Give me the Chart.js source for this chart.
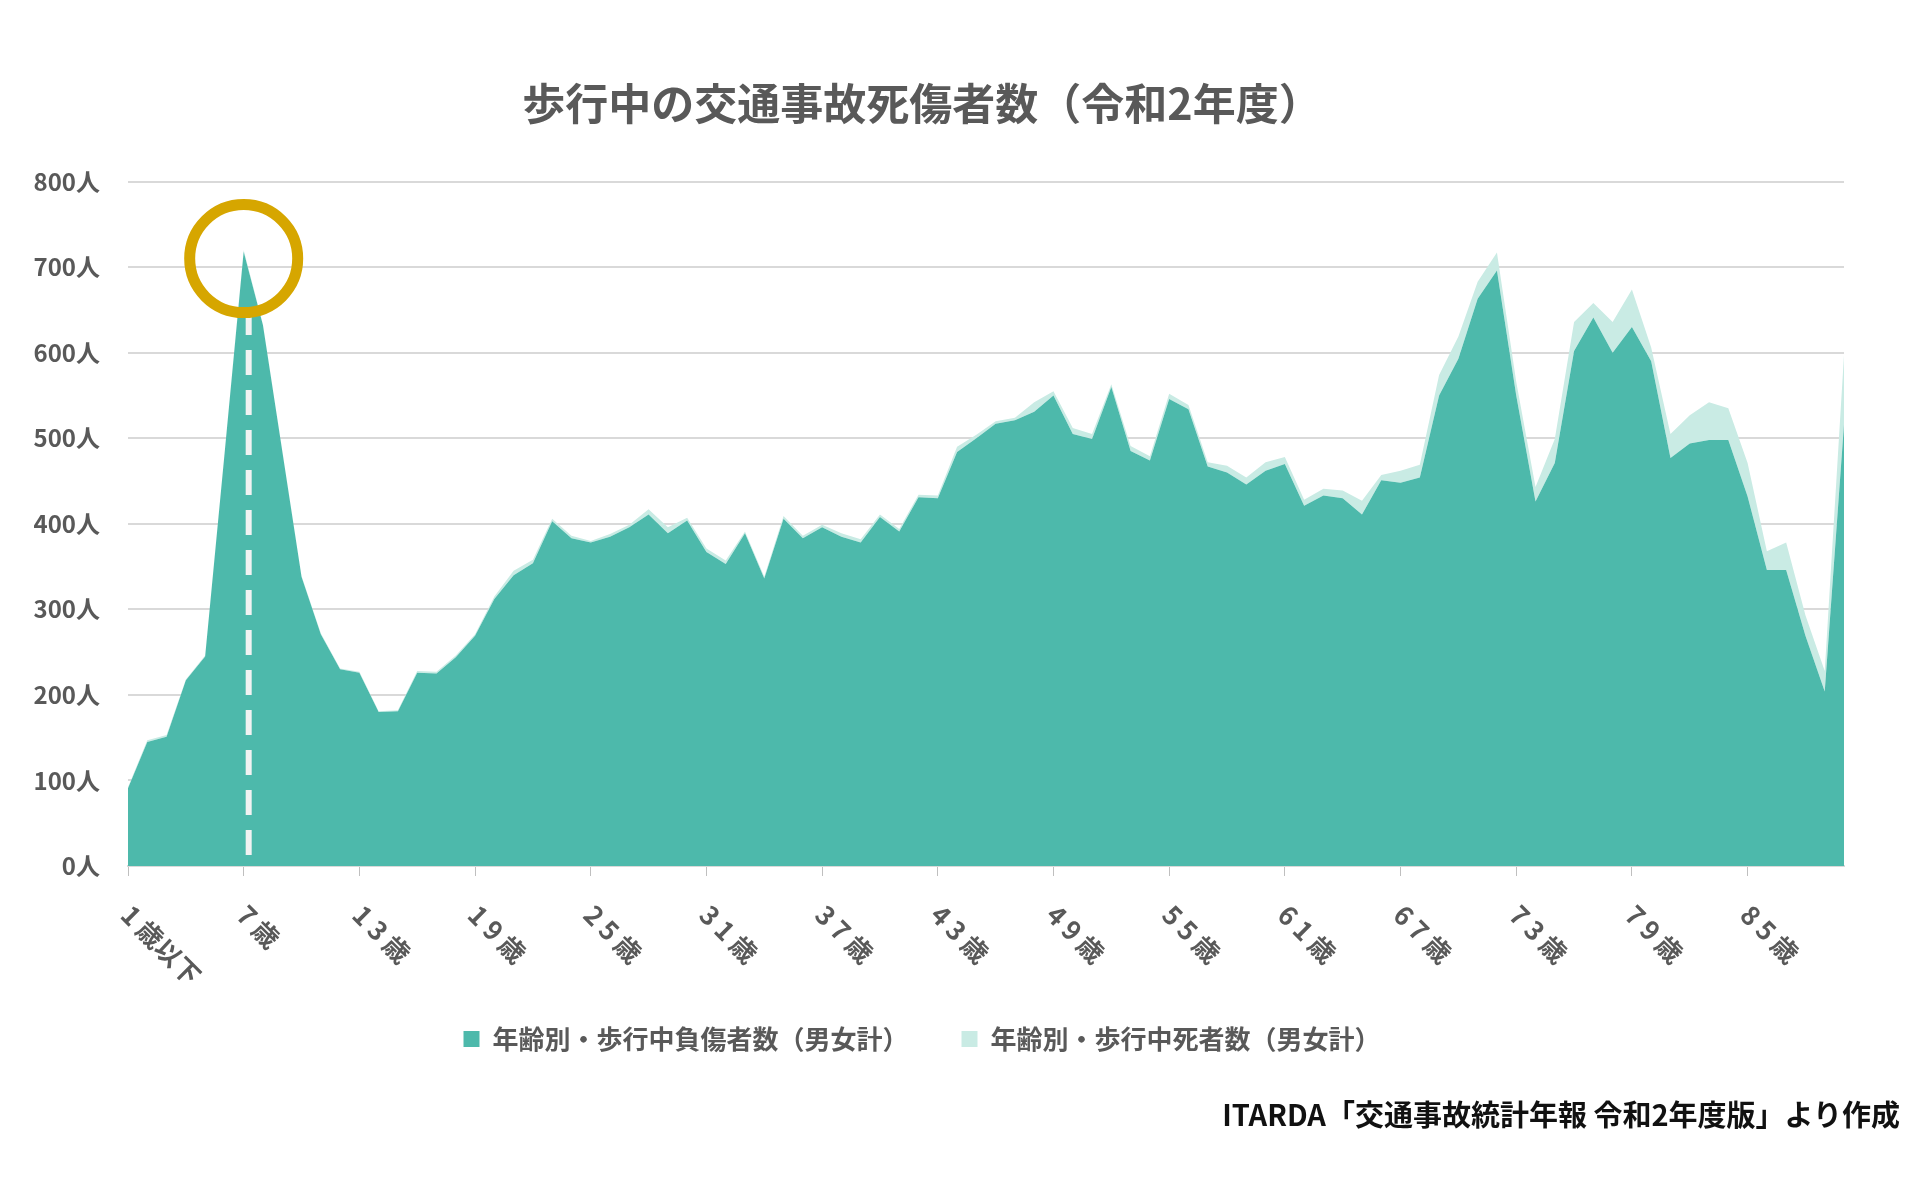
<!DOCTYPE html>
<html>
<head>
<meta charset="utf-8">
<script src="https://cdn.jsdelivr.net/npm/chart.js@4"></script>
<style>
  body { margin: 0; background: #fff; }
  #wrap { position: relative; width: 1920px; height: 1200px; }
  #source {
    position: absolute; right: 20px; top: 1092px;
    font: bold 29px "Noto Sans CJK JP", sans-serif; color: #111;
  }
</style>
</head>
<body>
<div id="wrap">
  <canvas id="graph" width="1920" height="1200"></canvas>
  <div id="source">ITARDA「交通事故統計年報 令和2年度版」より作成</div>
</div>
<script>
// 年齢（1歳以下〜90歳以上）
const ages = [];
for (let a = 1; a <= 90; a++) {
    ages.push(a === 1 ? '1歳以下' : (a === 90 ? '90歳以上' : a + '歳'));
}
// 軸に表示するラベル
const tickLabels = ['1 歳以下', '7 歳', '1 3 歳', '1 9 歳', '2 5 歳', '3 1 歳', '3 7 歳', '4 3 歳',
    '4 9 歳', '5 5 歳', '6 1 歳', '6 7 歳', '7 3 歳', '7 9 歳', '8 5 歳'];

const injured = [91, 145, 151, 217, 245, 480, 718, 632, 485, 338,
    271, 230, 226, 180, 181, 226, 225, 244, 269, 312,
    340, 354, 403, 383, 378, 385, 396, 411, 389, 404,
    367, 353, 389, 336, 406, 383, 396, 385, 378, 408,
    391, 431, 430, 484, 500, 517, 521, 531, 550, 505,
    499, 560, 485, 474, 546, 534, 467, 460, 446, 462,
    470, 421, 433, 430, 411, 451, 448, 454, 550, 593,
    663, 696, 550, 426, 471, 602, 641, 600, 630, 590,
    477, 494, 498, 498, 432, 346, 346, 269, 204, 516];

const killed = [1, 2, 2, 1, 1, 1, 2, 1, 1, 1,
    1, 1, 1, 1, 1, 2, 2, 2, 2, 3,
    5, 4, 3, 3, 2, 3, 3, 6, 7, 3,
    4, 4, 2, 2, 3, 3, 3, 4, 4, 3,
    3, 3, 3, 6, 4, 3, 3, 11, 5, 7,
    6, 3, 6, 5, 6, 5, 5, 8, 8, 10,
    8, 7, 8, 9, 16, 6, 14, 15, 24, 26,
    20, 21, 16, 17, 28, 34, 17, 36, 44, 16,
    28, 33, 44, 37, 39, 22, 32, 24, 24, 81];

const FONT = '"Noto Sans CJK JP", sans-serif';
const GREY = '#595959';

// x軸ラベル（右下がり45°）と7歳の強調
const overlay = {
    id: 'overlay',
    afterDraw(chart) {
        const ctx = chart.ctx;
        const x = chart.scales.x, y = chart.scales.y;
        ctx.save();
        ctx.font = 'bold 26px ' + FONT;
        ctx.fillStyle = GREY;
        ctx.textAlign = 'left';
        ctx.textBaseline = 'middle';
        tickLabels.forEach((t, k) => {
            const px = x.getPixelForValue(k * 6);
            ctx.save();
            ctx.translate(px - 2, y.bottom + 44);
            ctx.rotate(Math.PI / 4);
            ctx.fillText(t, 0, 0);
            ctx.restore();
        });

        // 7歳の破線
        const px7 = x.getPixelForValue(6) + 5;
        ctx.strokeStyle = '#f2f2f2';
        ctx.lineWidth = 6;
        ctx.setLineDash([25, 15]);
        ctx.beginPath();
        ctx.moveTo(px7, y.getPixelForValue(650));
        ctx.lineTo(px7, y.bottom - 4);
        ctx.stroke();

        // 丸
        ctx.setLineDash([]);
        ctx.strokeStyle = '#D6A600';
        ctx.lineWidth = 11;
        ctx.beginPath();
        ctx.arc(x.getPixelForValue(6), y.getPixelForValue(710), 54, 0, Math.PI * 2);
        ctx.stroke();
        ctx.restore();
    }
};

new Chart(document.getElementById('graph').getContext('2d'), {
    type: 'line',
    data: {
        labels: ages,
        datasets: [{
            label: '年齢別・歩行中負傷者数（男女計）　',
            data: injured,
            backgroundColor: '#4DB9AB',
            borderWidth: 0,
            pointRadius: 0,
            fill: 'origin'
        }, {
            label: '年齢別・歩行中死者数（男女計）',
            data: killed,
            backgroundColor: '#C9EBE4',
            borderWidth: 0,
            pointRadius: 0,
            fill: '-1'
        }]
    },
    options: {
        responsive: false,
        animation: false,
        layout: { padding: { left: 0, right: 76, bottom: 138 } },
        plugins: {
            title: {
                display: true,
                text: '歩行中の交通事故死傷者数（令和2年度）',
                color: GREY,
                font: { family: FONT, size: 43, weight: 'bold' },
                padding: { top: 78, bottom: 52 }
            },
            legend: {
                position: 'bottom',
                labels: {
                    color: GREY,
                    font: { family: FONT, size: 26, weight: 'bold' },
                    boxWidth: 16,
                    boxHeight: 16,
                    padding: 40
                }
            },
            tooltip: { enabled: false }
        },
        scales: {
            x: {
                stacked: true,
                offset: false,
                ticks: { display: false, autoSkip: false },
                grid: {
                    drawOnChartArea: false,
                    tickLength: 10,
                    tickColor: (c) => (c.index % 6 === 0 ? '#bfbfbf' : 'rgba(0,0,0,0)')
                },
                border: { color: '#d9d9d9', width: 2 },
                afterFit(scale) { scale.height = 120; }
            },
            y: {
                stacked: true,
                min: 0,
                max: 800,
                ticks: {
                    stepSize: 100,
                    padding: 28,
                    color: GREY,
                    font: { family: FONT, size: 24, weight: 'bold' },
                    callback: (v) => v + '人'
                },
                grid: { color: '#d9d9d9', lineWidth: 2, drawTicks: false },
                border: { display: false },
                afterFit(scale) { scale.width = 128; }
            }
        }
    },
    plugins: [overlay]
});
</script>
</body>
</html>
